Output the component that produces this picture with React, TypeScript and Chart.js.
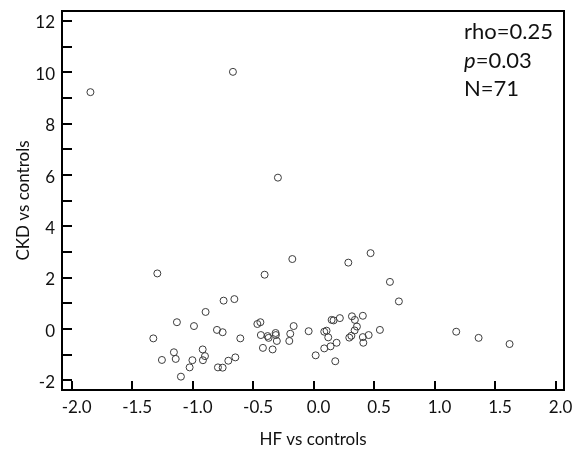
import React, { useEffect, useRef } from "react";
import { Chart, registerables } from "chart.js";

Chart.register(...registerables);

// HF vs controls (x) and CKD vs controls (y), one entry per subject (N=71)
const hfValues: number[] = [
  -1.845, -0.667, -0.295, -1.292, -0.176, -0.405, -0.744, -0.655, -0.893, -1.13,
  -0.989, -1.325, -0.799, -0.752, -0.606, -0.465, -0.44, -0.436, -0.38, -0.372,
  -0.314, -0.312, -0.304, -0.165, -0.193, -0.201, -0.041, 0.017, -0.419, -0.339,
  -1.155, -1.14, -1.254, -0.917, -0.898, -0.915, -1.002, -1.025, -1.097, -0.791,
  -0.752, -0.705, -0.647, 0.471, 0.287, 0.631, 0.705, 0.317, 0.341, 0.407,
  0.217, 0.149, 0.165, 0.358, 0.339, 0.548, 0.088, 0.107, 0.121, 0.312,
  0.295, 0.407, 0.455, 0.411, 0.19, 0.14, 0.088, 0.179, 1.179, 1.364,
  1.62,
];
const ckdValues: number[] = [
  9.23, 10.02, 5.9, 2.17, 2.73, 2.12, 1.11, 1.17, 0.67, 0.27,
  0.12, -0.36, -0.03, -0.12, -0.36, 0.2, 0.27, -0.23, -0.27, -0.34,
  -0.15, -0.23, -0.46, 0.12, -0.18, -0.46, -0.08, -1.02, -0.73, -0.79,
  -0.9, -1.16, -1.2, -0.79, -1.05, -1.21, -1.21, -1.49, -1.85, -1.49,
  -1.5, -1.23, -1.1, 2.96, 2.59, 1.84, 1.08, 0.5, 0.36, 0.52,
  0.43, 0.36, 0.34, 0.1, -0.05, -0.03, -0.1, -0.06, -0.32, -0.26,
  -0.33, -0.31, -0.23, -0.53, -0.53, -0.67, -0.75, -1.25, -0.1, -0.34,
  -0.58,
];

const xTicks: number[] = [-2, -1.5, -1, -0.5, 0, 0.5, 1, 1.5, 2];
const yTicks: number[] = [-2, -1, 0, 1, 2, 3, 4, 5, 6, 7, 8, 9, 10, 11, 12];
const yLabelled: number[] = [-2, 0, 2, 4, 6, 8, 10, 12];

const statLines: string[] = ["rho=0.25", "=0.03", "N=71"];

const FONT = "Lato, 'Open Sans', sans-serif";

const framePlugin = {
  id: "frame",
  afterDraw(chart: any) {
    const { ctx, chartArea } = chart;
    const { left, right, top, bottom } = chartArea;
    const xs = chart.scales.x;
    const ys = chart.scales.y;
    ctx.save();
    ctx.strokeStyle = "#000";
    ctx.lineWidth = 2;
    ctx.strokeRect(left, top, right - left, bottom - top);
    ctx.beginPath();
    xTicks.forEach((v) => {
      const px = Math.round(xs.getPixelForValue(v));
      ctx.moveTo(px, bottom);
      ctx.lineTo(px, bottom - 9);
    });
    yTicks.forEach((v) => {
      const py = Math.round(ys.getPixelForValue(v));
      ctx.moveTo(left, py);
      ctx.lineTo(left + 10, py);
    });
    ctx.stroke();

    // statistics annotation
    ctx.fillStyle = "#111";
    ctx.textBaseline = "alphabetic";
    ctx.textAlign = "left";
    const tx = right - 100;
    ctx.font = `22px ${FONT}`;
    ctx.fillText(statLines[0], tx, top + 28);
    ctx.font = `italic 22px ${FONT}`;
    ctx.fillText("p", tx, top + 57);
    const pw = ctx.measureText("p").width;
    ctx.font = `22px ${FONT}`;
    ctx.fillText(statLines[1], tx + pw, top + 57);
    ctx.fillText(statLines[2], tx, top + 85);
    ctx.restore();
  },
};

export default function App() {
  const canvasRef = useRef<HTMLCanvasElement | null>(null);

  useEffect(() => {
    if (!canvasRef.current) return;
    const points = hfValues.map((x, i) => ({ x, y: ckdValues[i] }));
    const chart = new Chart(canvasRef.current, {
      type: "scatter",
      data: {
        datasets: [
          {
            data: points,
            pointStyle: "circle",
            pointRadius: 3.5,
            pointBorderWidth: 1,
            borderColor: "#3c3c3c",
            backgroundColor: "rgba(0,0,0,0)",
            pointBackgroundColor: "rgba(0,0,0,0)",
            pointBorderColor: "#3c3c3c",
          },
        ],
      },
      options: {
        animation: false,
        responsive: false,
        maintainAspectRatio: false,
        layout: { padding: { top: 11, right: 16, left: 0, bottom: 0 } },
        plugins: {
          legend: { display: false },
          tooltip: { enabled: false },
        },
        scales: {
          x: {
            type: "linear",
            position: "bottom",
            min: -2.08,
            max: 2.07,
            grid: { display: false, drawTicks: false },
            border: { display: false },
            afterBuildTicks: (s: any) => {
              s.ticks = xTicks.map((v) => ({ value: v }));
            },
            afterFit: (s: any) => {
              s.height = 63;
              s.paddingLeft = 0;
              s.paddingRight = 0;
            },
            ticks: {
              autoSkip: false,
              maxRotation: 0,
              padding: 7,
              labelOffset: 5,
              color: "#111",
              font: { family: FONT, size: 17 },
              callback: (v: any) => Number(v).toFixed(1),
            },
            title: {
              display: true,
              text: "HF vs controls",
              color: "#111",
              font: { family: FONT, size: 17 },
              padding: { top: 0, bottom: 3 },
            },
          },
          y: {
            type: "linear",
            position: "left",
            min: -2.37,
            max: 12.39,
            grid: { display: false, drawTicks: false },
            border: { display: false },
            afterBuildTicks: (s: any) => {
              s.ticks = yTicks.map((v) => ({ value: v }));
            },
            afterFit: (s: any) => {
              s.width = 62;
              s.paddingTop = 0;
              s.paddingBottom = 0;
            },
            ticks: {
              autoSkip: false,
              padding: 7,
              labelOffset: 2,
              color: "#111",
              font: { family: FONT, size: 17 },
              callback: (v: any) => (yLabelled.includes(Number(v)) ? String(v) : ""),
            },
            title: {
              display: true,
              text: "CKD vs controls",
              color: "#111",
              font: { family: FONT, size: 17 },
              padding: { top: 13, bottom: 0 },
            },
          },
        },
      },
      plugins: [framePlugin],
    });
    return () => chart.destroy();
  }, []);

  return (
    <div style={{ position: "absolute", left: 0, top: 0, width: 580, height: 453, background: "#fff" }}>
      <canvas ref={canvasRef} width={580} height={453} style={{ width: 580, height: 453 }} />
    </div>
  );
}
